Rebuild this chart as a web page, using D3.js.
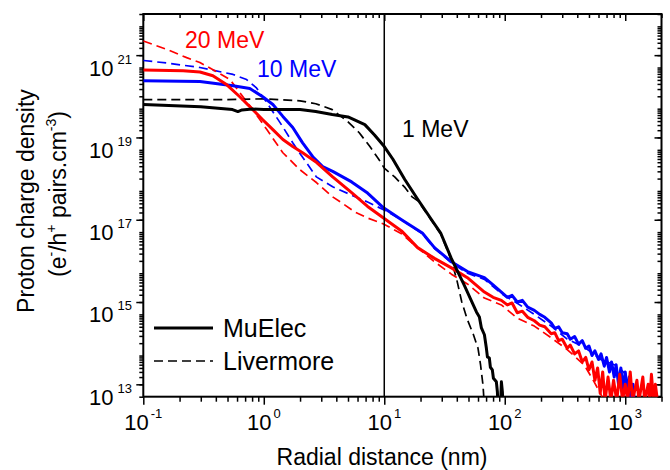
<!DOCTYPE html>
<html>
<head>
<meta charset="UTF-8">
<script src="https://d3js.org/d3.v7.min.js"></script>
<style>
  body { margin: 0; background: #fff; }
  svg { font-family: "Liberation Sans", Arial, sans-serif; }
</style>
</head>
<body>
<svg width="670" height="470"></svg>
<script>
// radial distance (nm), charge density (pairs/cm3)
const muElec1 = [[0.1,1.26e20],[0.3,1.12e20],[0.55,9.5e19],[0.61,8.5e19],[0.66,9.3e19],[0.8,9.8e19],[1.0,9.6e19],[2.0,9.5e19],[2.7,8.5e19],[3.7,7.2e19],[5.0,6.3e19],[6.9,4.1e19],[8.3,2.3e19],[10,1.2e19],[11.8,5.9e18],[14.8,1.9e18],[19,6.2e17],[24.7,2.0e17],[29.4,9.5e16],[36,2.3e16],[46,5.2e15],[58.2,1.15e15],[61.6,8.7e14],[64,4.7e14],[67.8,3.2e14],[70.4,1.5e14],[71.8,9.3e13],[74.5,8.7e13],[76,5.2e13],[78.9,4.5e13],[80.5,2.8e13],[85.2,2.3e13],[86.9,1.3e13],[88,5e12],[92,5e12],[93.8,2.3e13],[95.6,1.3e13],[97,5e12]];
const liver1 = [[0.1,1.66e20],[0.5,1.66e20],[1,1.74e20],[2,1.55e20],[2.7,1.32e20],[3.7,9.5e19],[5,4.8e19],[6.2,2.6e19],[7.6,1.2e19],[9.0,5.9e18],[10,3.6e18],[12.2,2.2e18],[14.9,1.2e18],[17,7.2e17],[19,5.8e17],[24.7,1.9e17],[29.4,9.1e16],[36,2.1e16],[40,6.9e15],[44,2.0e15],[49,7.4e14],[55,3.2e14],[60,1.5e14],[63,5.9e13],[66,1.9e13],[68,5e12]];
const muElec10 = [[0.1,4.8e20],[0.295,4.6e20],[0.556,3.6e20],[0.766,3.1e20],[0.98,1.95e20],[1.19,1.26e20],[1.44,6.5e19],[1.74,3.5e19],[2.1,1.48e19],[2.55,6.8e18],[3.08,3.9e18],[3.73,3.0e18],[5.36,1.66e18],[7.27,8.9e17],[9.86,3.9e17],[13.9,2.0e17],[20.7,9.5e16],[26.1,4.2e16],[36.1,1.9e16],[49,1.1e16],[67.8,7.8e15],[80,5.2e15],[93.8,3.5e15],[105,2.6e15],[115,2.9e15],[127,2.0e15],[140,2.2e15],[155,1.5e15],[176,1.25e15],[195,1.0e15],[215,8.5e14],[243,6.2e14],[260,4.6e14],[280,5.0e14],[300,3.6e14],[330,3.4e14],[350,2.5e14],[380,2.9e14],[410,1.9e14],[440,2.3e14],[470,1.5e14],[500,1.7e14],[530,1.0e14],[560,1.3e14],[600,8e13],[630,1.1e14],[670,5.5e13],[700,9e13],[740,4e13],[770,7e13],[810,3e13],[840,6e13],[880,2e13],[920,5e13],[960,1.5e13],[1000,4e13],[1050,1.1e13],[1080,3e13],[1120,8e12],[1160,2e13],[1200,5e12]];
const liver10 = [[0.1,1.48e21],[0.157,1.29e21],[0.295,1.0e21],[0.556,6.8e20],[0.72,5.1e20],[0.87,3.2e20],[1.06,1.41e20],[1.44,3.6e19],[1.74,1.48e19],[1.99,8.3e18],[2.73,2.2e18],[3.73,1.26e18],[5.36,7.9e17],[7.27,5.4e17],[9.86,3.5e17],[13.9,2.0e17],[20.7,9.1e16],[26.1,4.0e16],[36.1,1.8e16],[49,1.0e16],[67.8,7.1e15],[93.8,3.2e15],[127,1.86e15],[176,1.0e15],[243,5.2e14],[330,2.5e14],[457,1.6e14],[632,7.9e13],[859,5.6e13],[1040,3.2e13],[1150,5e12]];
const muElec20 = [[0.1,8.7e20],[0.214,8.3e20],[0.295,7.8e20],[0.378,6.3e20],[0.494,3.8e20],[0.632,1.95e20],[0.811,9.5e19],[0.98,5.4e19],[1.19,3.1e19],[1.44,1.78e19],[1.74,1.2e19],[2.1,8.5e18],[2.75,4.9e18],[3.73,2.2e18],[5.36,9.1e17],[7.27,4.2e17],[9.86,2.2e17],[13.9,1.07e17],[18.9,4.2e16],[26.1,2.3e16],[36.1,1.35e16],[49,7.8e15],[67.8,3.5e15],[80,2.6e15],[93.8,2.2e15],[105,1.7e15],[115,1.9e15],[127,1.1e15],[140,1.2e15],[155,8.5e14],[176,7e14],[195,5.5e14],[215,5.0e14],[243,3.4e14],[260,3.6e14],[280,2.3e14],[300,2.5e14],[330,1.5e14],[350,1.8e14],[380,1.1e14],[410,1.3e14],[440,7e13],[470,9e13],[500,4.5e13],[530,7e13],[560,2.5e13],[590,5e13],[620,1.2e13],[650,4e13],[680,8e12],[720,3e13],[760,8e12],[800,2.5e13],[850,8e12],[900,3.5e13],[950,8e12],[1000,2e13],[1050,8e12],[1100,4e13],[1150,8e12],[1250,2.5e13],[1300,8e12],[1400,3e13],[1450,8e12],[1550,2e13],[1600,8e12],[1650,3.5e13],[1720,8e12],[1780,2e13],[1850,8e12]];
const liver20 = [[0.1,4.4e21],[0.157,2.75e21],[0.229,1.74e21],[0.295,1.32e21],[0.406,7.9e20],[0.524,5.1e20],[0.632,2.45e20],[0.811,9.5e19],[1.06,3.1e19],[1.44,8.5e18],[1.99,3.3e18],[2.75,1.58e18],[3.73,7.2e17],[4.69,4.6e17],[5.68,3.1e17],[7.27,2.2e17],[9.86,1.58e17],[13.9,9.1e16],[18.9,4.2e16],[26.1,1.9e16],[36.1,9.5e15],[49,5.5e15],[67.8,2.5e15],[93.8,1.7e15],[127,8.1e14],[176,5.2e14],[243,2.7e14],[330,1.4e14],[457,5.9e13],[552,2.3e13],[632,1.1e13],[700,5e12]];

const xLabelExp = [-1, 0, 1, 2, 3];
const yLabelExp = [13, 15, 17, 19, 21];
const legendNames = ["MuElec", "Livermore"];
const energyLabels = ["20 MeV", "10 MeV", "1 MeV"];

const svg = d3.select("svg");
const margin = { top: 14, right: 8.5, bottom: 73.3, left: 143.3 };
const W = 670, H = 470;

const x = d3.scaleLog().domain([0.1, 2000]).range([margin.left, W - margin.right]);
const y = d3.scaleLog().domain([1e13, 2e22]).range([H - margin.bottom, margin.top]);

// ticks
const xMinor = [], yMinor = [];
for (let e = -1; e <= 3; e++) for (let k = 2; k <= 9; k++) if (k * 10 ** e <= 2000) xMinor.push(k * 10 ** e);
const xMajor = xLabelExp.map(e => 10 ** e);
for (let e = 13; e <= 22; e++) for (let k = 1; k <= 9; k++) if (k * 10 ** e <= 2e22) yMinor.push(k * 10 ** e);
const yMajor = yLabelExp.map(e => 2 * 10 ** e);

function ax(gen, vals, size, tr) {
  svg.append("g").attr("transform", tr)
    .call(gen.tickValues(vals).tickSize(size).tickSizeOuter(0).tickFormat(""))
    .call(g => g.select(".domain").remove())
    .selectAll("line").attr("stroke-width", 1.5);
}
const yb = H - margin.bottom, xr = W - margin.right;
ax(d3.axisBottom(x), xMinor, 5, `translate(0,${yb})`);
ax(d3.axisBottom(x), xMajor, 8, `translate(0,${yb})`);
ax(d3.axisTop(x), xMinor, -4, `translate(0,${margin.top})`);
ax(d3.axisTop(x), xMajor, -7, `translate(0,${margin.top})`);
ax(d3.axisLeft(y), yMinor, 4, `translate(${margin.left},0)`);
ax(d3.axisLeft(y), yMajor, 7, `translate(${margin.left},0)`);
ax(d3.axisRight(y), yMinor, -4, `translate(${xr},0)`);
ax(d3.axisRight(y), yMajor, -7, `translate(${xr},0)`);

svg.append("rect")
  .attr("x", margin.left).attr("y", margin.top)
  .attr("width", xr - margin.left).attr("height", yb - margin.top)
  .attr("fill", "none").attr("stroke", "#000").attr("stroke-width", 2);

// tick labels
svg.selectAll(".xl").data(xLabelExp).join("text")
  .attr("x", d => x(10 ** d)).attr("y", 430)
  .attr("text-anchor", "middle").attr("font-size", 22)
  .each(function (d) {
    const t = d3.select(this);
    t.append("tspan").text("10");
    t.append("tspan").attr("dx", 2).attr("dy", -12).attr("font-size", 13).text(d);
  });
svg.selectAll(".yl").data(yLabelExp).join("text")
  .attr("x", 132).attr("y", d => y(10 ** d) + 8)
  .attr("text-anchor", "end").attr("font-size", 22)
  .each(function (d) {
    const t = d3.select(this);
    t.append("tspan").text("10");
    t.append("tspan").attr("dx", 4).attr("dy", -12).attr("font-size", 13).text(d);
  });

// axis titles
svg.append("text").attr("x", 382).attr("y", 465).attr("text-anchor", "middle")
  .attr("font-size", 23).text("Radial distance (nm)");
svg.append("text").attr("transform", "translate(34,201) rotate(-90)")
  .attr("text-anchor", "middle").attr("font-size", 23).text("Proton charge density");
const yt2 = svg.append("text").attr("transform", "translate(66,194) rotate(-90)")
  .attr("text-anchor", "middle").attr("font-size", 23);
[["(e", 0], ["-", 1], ["/h", 0], ["+", 1], [" pairs.cm", 0], ["-3", 1], [")", 0]].forEach(([s, sup], i, arr) => {
  const prevSup = i > 0 && arr[i - 1][1];
  const dy = sup ? -10 : (prevSup ? 10 : 0);
  yt2.append("tspan").attr("dy", dy).attr("font-size", sup ? 14 : 23).text(s);
});

// data lines
svg.append("clipPath").attr("id", "clip").append("rect")
  .attr("x", margin.left).attr("y", margin.top)
  .attr("width", xr - margin.left).attr("height", yb - margin.top);
const line = d3.line().x(d => x(d[0])).y(d => y(d[1]));
const plot = svg.append("g").attr("clip-path", "url(#clip)");

const series = [
  { data: liver10, color: "#0000ff", dash: true },
  { data: liver20, color: "#ff0000", dash: true },
  { data: liver1, color: "#000", dash: true },
  { data: muElec10, color: "#0000ff", dash: false },
  { data: muElec20, color: "#ff0000", dash: false },
  { data: muElec1, color: "#000", dash: false }
];
series.forEach(s => {
  plot.append("path").datum(s.data)
    .attr("d", line).attr("fill", "none")
    .attr("stroke", s.color)
    .attr("stroke-width", s.dash ? 1.7 : 3)
    .attr("stroke-dasharray", s.dash ? "9,5" : null)
    .attr("stroke-linejoin", "round");
});

// vertical marker at 10 nm
svg.append("line")
  .attr("x1", x(10)).attr("x2", x(10))
  .attr("y1", margin.top).attr("y2", yb)
  .attr("stroke", "#000").attr("stroke-width", 1.5);

// energy labels
const energyPos = [[185, 48, "#ff0000"], [257, 77, "#0000ff"], [402, 137, "#000"]];
energyLabels.forEach((t, i) => {
  svg.append("text").attr("x", energyPos[i][0]).attr("y", energyPos[i][1])
    .attr("font-size", 23).attr("fill", energyPos[i][2]).text(t);
});

// legend
const lg = svg.append("g");
legendNames.forEach((n, i) => {
  const ly = 328 + i * 33;
  lg.append("line").attr("x1", 154).attr("x2", 213).attr("y1", ly).attr("y2", ly)
    .attr("stroke", "#000").attr("stroke-width", i ? 1.7 : 3.2)
    .attr("stroke-dasharray", i ? "9,5" : null);
  lg.append("text").attr("x", 223).attr("y", ly + 9).attr("font-size", 25).text(n);
});
</script>
</body>
</html>
